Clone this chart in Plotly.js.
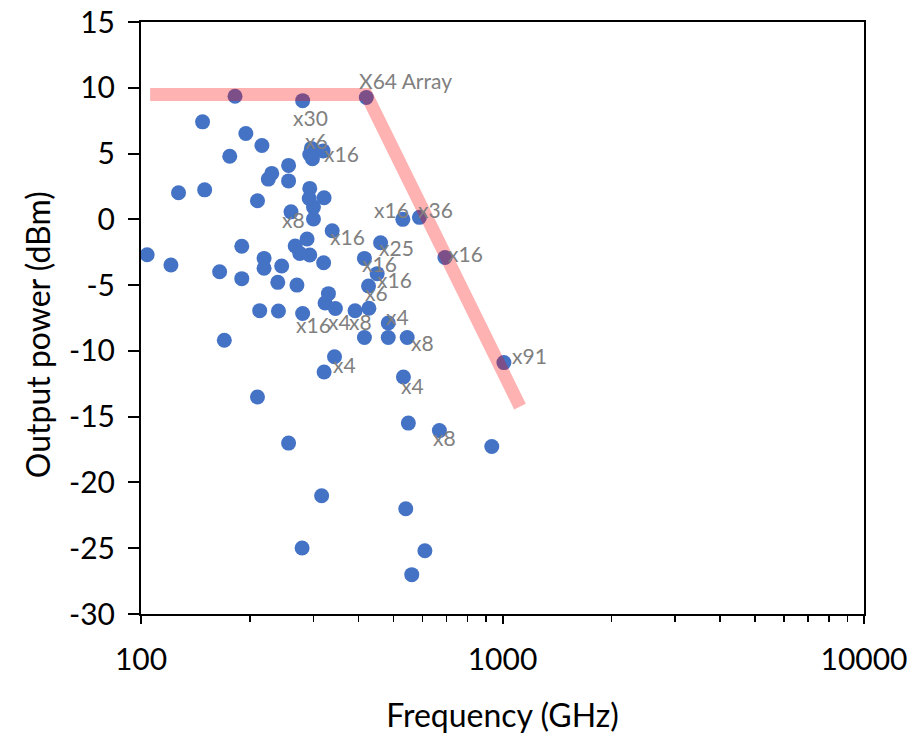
<!DOCTYPE html>
<html>
<head>
<meta charset="utf-8">
<script src="https://cdn.plot.ly/plotly-3.0.1.min.js"></script>
<style>html,body{margin:0;padding:0;background:#fff;}#chart{width:917px;height:737px;}</style>
</head>
<body>
<div id="chart"></div>
<script>
// Measured sources: frequency (GHz) and output power (dBm)
const freqGHz = [104,121,127,148,150,170,165,176,182,190,190,195,210,213,216,210,219,219,225,230,239,240,245,256,256,256,260,267,270,275,280,280,279,288,293,292,293,296,293,298,300,300,319,316,321,320,321,323,330,338,345,343,391,415,415,420,426,427,450,460,483,483,530,532,540,545,549,561,589,610,669,693,934,1009];
const powerDBm = [-2.69,-3.47,2.02,7.41,2.24,-9.19,-3.98,4.80,9.36,-2.05,-4.51,6.53,1.41,-6.94,5.61,-13.50,-2.97,-3.72,3.06,3.49,-4.79,-6.97,-3.55,4.10,2.92,-17.01,0.57,-2.03,-5.00,-2.59,9.02,-7.16,-24.98,-1.50,2.35,1.58,-2.71,5.39,4.93,4.61,0.93,0.02,5.20,-21.01,-11.61,-3.30,1.64,-6.36,-5.65,-0.87,-6.78,-10.44,-6.95,-2.97,-8.98,9.26,-5.07,-6.76,-4.13,-1.78,-7.88,-8.98,0.00,-11.99,-22.00,-8.98,-15.49,-27.01,0.15,-25.19,-16.06,-2.90,-17.27,-10.89];

// State-of-the-art envelope (pink line)
const envFreq = [106, 420, 1118];
const envPower = [9.49, 9.49, -14.23];

// Array-size labels and the sources they belong to
const labelText  = ["X64 Array","x30","x6","x16","x8","x16","x16","x36","x25","x16","x16","x6","x16","x16","x4","x8","x4","x8","x4","x4","x91","x8"];
const labelFreq  = [420,280,296,319,260,338,530,589,460,415,450,426,693,280,345,391,483,545,343,532,1009,669];
const labelPower = [9.26,9.02,5.39,5.20,0.57,-0.87,0.00,0.15,-1.78,-2.97,-4.13,-5.07,-2.90,-7.16,-6.78,-6.95,-7.88,-8.98,-10.44,-11.99,-10.89,-16.06];

// Axis ticks
const xTickVals = [100, 1000, 10000];
const xTickText = ["100", "1000", "10000"];
const yTickVals = [15, 10, 5, 0, -5, -10, -15, -20, -25, -30];
const yTickText = ["15", "10", "5", "0", "-5", "-10", "-15", "-20", "-25", "-30"];

// label offsets in pixels (layout only)
const labelShift = [[39,17],[8,-17],[5,8],[18,-3],[2,-8],[15,-6],[-11,10],[16,8],[16,-5],[15,-5],[17,-6],[8,-6],[21,4],[11,-11],[4,-13],[5,-11],[9,7],[15,-5],[10,-8],[9,-8],[26,7],[5,-7]];

const FONT = "Lato, 'Open Sans', sans-serif";

const traces = [
  {
    type: "scatter", mode: "markers",
    x: freqGHz, y: powerDBm,
    marker: {color: "#4472C4", size: 15, line: {width: 0}},
    hoverinfo: "x+y", showlegend: false
  },
  {
    type: "scatter", mode: "lines",
    x: envFreq, y: envPower,
    line: {color: "rgba(255,0,0,0.3)", width: 13},
    hoverinfo: "skip", showlegend: false
  }
];

const annotations = labelText.map((t, i) => ({
  x: Math.log10(labelFreq[i]), y: labelPower[i], xref: "x", yref: "y",
  text: t, showarrow: false,
  xshift: labelShift[i][0], yshift: labelShift[i][1],
  xanchor: "center", yanchor: "middle",
  font: {family: FONT, size: 21, color: "#808080"}
}));

annotations.push({
  xref: "paper", yref: "paper", x: -0.1438, y: 0.471,
  xanchor: "center", yanchor: "middle", textangle: -90,
  text: "Output power (dBm)", showarrow: false,
  font: {family: FONT, size: 32, color: "#000"}
});

const layout = {
  width: 917, height: 737,
  margin: {l: 141, r: 53, t: 22, b: 123, pad: 0},
  paper_bgcolor: "#fff", plot_bgcolor: "#fff",
  showlegend: false,
  font: {family: FONT, color: "#000"},
  xaxis: {
    type: "log", range: [2, 4],
    tickvals: xTickVals, ticktext: xTickText,
    ticks: "outside", ticklen: 8, tickwidth: 2, tickcolor: "#000",
    minor: {ticks: "outside", ticklen: 6, tickwidth: 1.5, tickcolor: "#000", dtick: "D1", showgrid: false},
    showline: true, linecolor: "#000", linewidth: 2, mirror: true,
    showgrid: false, zeroline: false,
    ticklabelstandoff: 10,
    tickfont: {family: FONT, size: 30, color: "#000"},
    title: {text: "Frequency (GHz)", font: {family: FONT, size: 32, color: "#000"}, standoff: 30}
  },
  yaxis: {
    range: [-30, 15],
    tickvals: yTickVals, ticktext: yTickText,
    ticks: "outside", ticklen: 11, tickwidth: 2, tickcolor: "#000",
    showline: true, linecolor: "#000", linewidth: 2, mirror: true,
    showgrid: false, zeroline: false,
    ticklabelstandoff: 7,
    tickfont: {family: FONT, size: 30, color: "#000"}
  },
  annotations: annotations
};

Plotly.newPlot("chart", traces, layout, {displayModeBar: false, staticPlot: true});
</script>
</body>
</html>
